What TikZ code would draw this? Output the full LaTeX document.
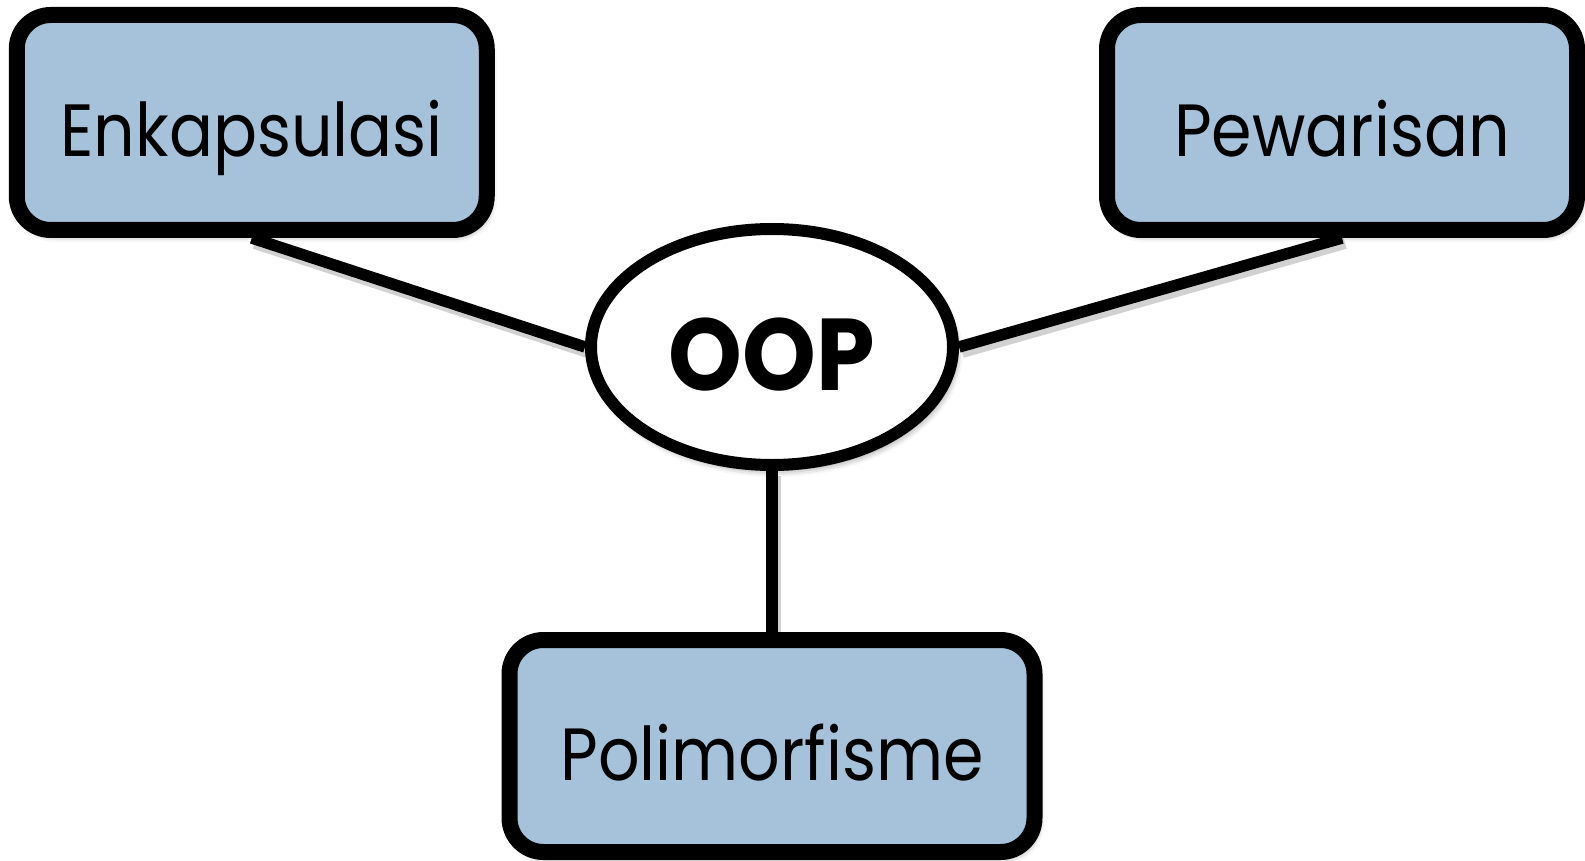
\documentclass[tikz,border=0pt]{standalone}
\usepackage{fontspec}
\setmainfont{Poppins}[FakeStretch=0.88]
\newfontfamily\oopfont{Poppins}[FakeStretch=0.92]
\usetikzlibrary{shapes.geometric,shadows.blur,backgrounds}
\definecolor{boxblue}{RGB}{165,194,218}
\tikzset{
  conceptbox/.style={draw=black, line width=16pt, fill=boxblue, rounded corners=34pt,
    inner sep=0pt, font=\fontsize{74}{80}\selectfont, text height=69pt, text depth=0pt,
    blur shadow={shadow xshift=3pt, shadow yshift=-5pt, shadow blur radius=7pt, shadow opacity=50}},
  centerellipse/.style={draw=black, line width=12pt, fill=white, ellipse, inner sep=0pt,
    font=\oopfont\bfseries\fontsize{102}{110}\selectfont, text height=86pt, text depth=0pt,
    blur shadow={shadow xshift=3pt, shadow yshift=-5pt, shadow blur radius=7pt, shadow opacity=50}},
  link/.style={draw=black, line width=11.5pt},
  linkshadow/.style={draw=black, opacity=0.18, line width=12pt, transform canvas={shift={(3pt,-5pt)}}}
}
\begin{document}
\begin{tikzpicture}[x=1pt,y=-1pt]
\useasboundingbox (0,0) rectangle (1585,861);
\node[conceptbox, minimum width=470pt, minimum height=215pt] (enk) at (251.75,122.5) {Enkapsulasi};
\node[conceptbox, minimum width=470pt, minimum height=215pt] (pew) at (1342,122.5) {Pewarisan};
\node[conceptbox, minimum width=525pt, minimum height=212pt] (pol) at (772,746) {Polimorfisme};
\node[centerellipse, minimum width=362pt, minimum height=236pt] (oop) at (772,347) {OOP};
\begin{scope}[on background layer]
\draw[linkshadow] (enk.south) -- (oop.west);
\draw[linkshadow] (pew.south) -- (oop.east);
\draw[linkshadow] (oop.south) -- (pol.north);
\draw[link] (enk.south) -- (oop.west);
\draw[link] (pew.south) -- (oop.east);
\draw[link] (oop.south) -- (pol.north);
\end{scope}
\end{tikzpicture}
\end{document}
